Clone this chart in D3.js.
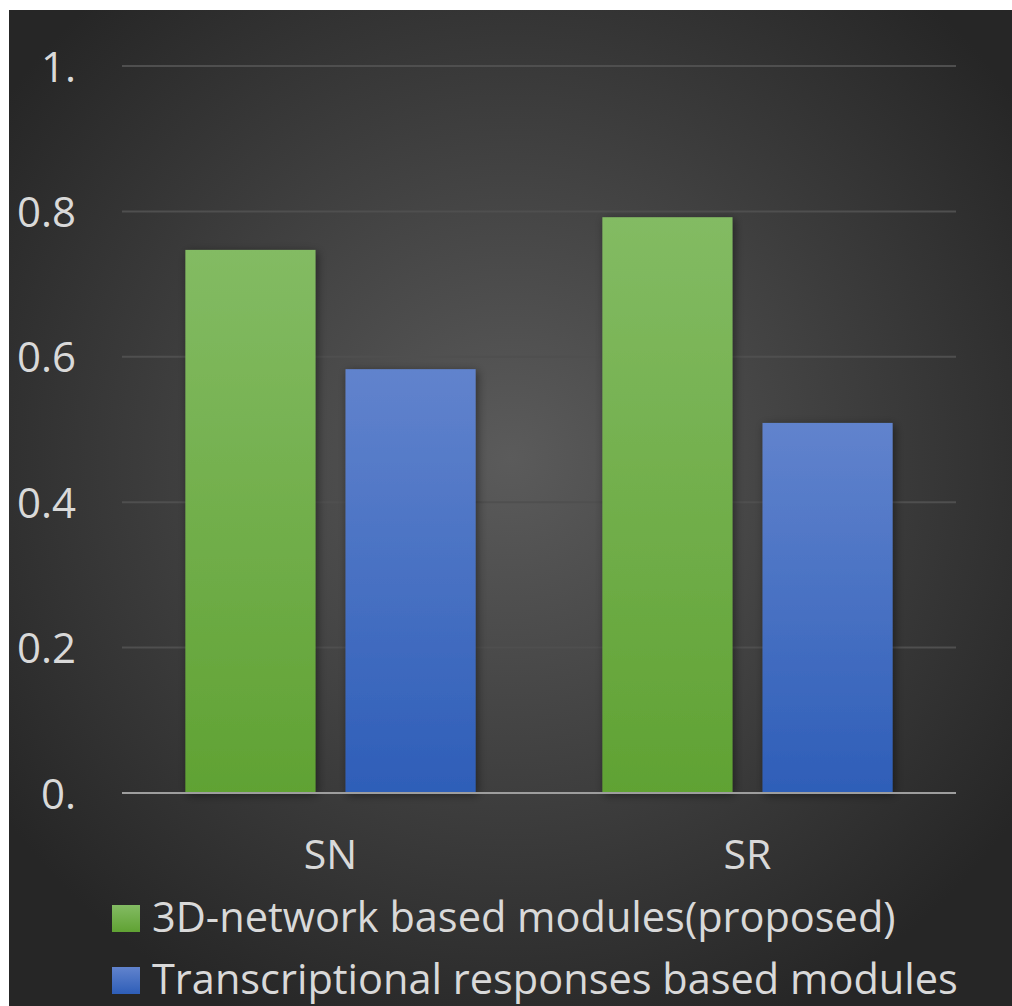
<!DOCTYPE html>
<html>
<head>
<meta charset="utf-8">
<script src="https://cdn.jsdelivr.net/npm/d3@7"></script>
<style>
  html, body { margin: 0; padding: 0; background: #fff; }
  svg { display: block; }
  text { font-family: "Open Sans", sans-serif; fill: #d9d9d9; }
</style>
</head>
<body>
<script>
// data
var categories = ["SN", "SR"]
var seriesNames = ["3D-network based modules(proposed)", "Transcriptional responses based modules"]
var proposed = [0.747, 0.792]
var transcriptional = [0.583, 0.509]
var tickValues = [0, 0.2, 0.4, 0.6, 0.8, 1]
var tickLabels = ["0.", "0.2", "0.4", "0.6", "0.8", "1."]

var w = 1012, h = 1006

var svg = d3.select("body").append("svg")
    .attr("width", w).attr("height", h)

var defs = svg.append("defs")

// dark radial background like the office theme
var bg = defs.append("radialGradient").attr("id", "bg")
    .attr("cx", "50%").attr("cy", "45%").attr("r", "62%")
bg.append("stop").attr("offset", "0%").attr("stop-color", "#5b5b5b")
bg.append("stop").attr("offset", "100%").attr("stop-color", "#262626")

var colors = [["#83bb63", "#60a233"], ["#6183cd", "#2e5eb8"]]
colors.forEach(function(c, i) {
  var g = defs.append("linearGradient").attr("id", "fill" + i)
      .attr("x1", 0).attr("y1", 0).attr("x2", 0).attr("y2", 1)
  g.append("stop").attr("offset", "0%").attr("stop-color", c[0])
  g.append("stop").attr("offset", "100%").attr("stop-color", c[1])
})

var shadow = defs.append("filter").attr("id", "shadow")
    .attr("x", "-20%").attr("y", "-20%").attr("width", "140%").attr("height", "140%")
shadow.append("feDropShadow").attr("dx", 2).attr("dy", 2)
    .attr("stdDeviation", 5).attr("flood-color", "#000").attr("flood-opacity", 0.45)

svg.append("rect").attr("x", 9).attr("y", 10)
    .attr("width", w - 9).attr("height", h - 10)
    .attr("fill", "url(#bg)")

var y = d3.scaleLinear().domain([0, 1]).range([793, 66])

var x0 = d3.scaleBand().domain(categories).range([122, 956])
    .paddingInner(0.304).paddingOuter(0.152)

var x1 = d3.scaleBand().domain([0, 1]).range([0, x0.bandwidth()])
    .paddingInner(0.1875)

// grid lines
svg.append("g").selectAll("line")
    .data(tickValues.slice(1))
  .enter().append("line")
    .attr("x1", 122).attr("x2", 956)
    .attr("y1", function(d) { return y(d) }).attr("y2", function(d) { return y(d) })
    .attr("stroke", "#4f4f4f").attr("stroke-width", 2)

// y axis labels
var yAxis = d3.axisLeft(y).tickValues(tickValues)
    .tickFormat(function(d, i) { return tickLabels[i] })
    .tickSize(0).tickPadding(0)
var ya = svg.append("g").attr("transform", "translate(76,0)").call(yAxis)
ya.select(".domain").remove()
ya.selectAll("text").style("font-size", "42px").attr("fill", "#dcdcdc")
    .attr("dy", "0.36em")

// bars
var rows = categories.map(function(c, i) { return [proposed[i], transcriptional[i]] })

var groups = svg.append("g").selectAll("g")
    .data(rows)
  .enter().append("g")
    .attr("transform", function(d, i) { return "translate(" + x0(categories[i]) + ",0)" })

groups.selectAll("rect")
    .data(function(d) { return d })
  .enter().append("rect")
    .attr("x", function(d, j) { return x1(j) })
    .attr("width", x1.bandwidth())
    .attr("y", function(d) { return y(d) })
    .attr("height", function(d) { return y(0) - y(d) })
    .attr("fill", function(d, j) { return "url(#fill" + j + ")" })
    .attr("filter", "url(#shadow)")

// x axis
var xAxis = d3.axisBottom(x0).tickSize(0).tickPadding(0)
var xa = svg.append("g").attr("transform", "translate(0," + y(0) + ")").call(xAxis)
xa.select(".domain").attr("stroke", "#9e9e9e").attr("stroke-width", 2)
    .attr("d", "M122,0H956")
xa.selectAll("text").style("font-size", "41px").attr("fill", "#dcdcdc")
    .attr("y", 76).attr("dy", 0)

// legend
var legend = svg.append("g").selectAll("g")
    .data(seriesNames)
  .enter().append("g")
    .attr("transform", function(d, i) { return "translate(112," + (905 + i * 62) + ")" })

legend.append("rect").attr("width", 28).attr("height", 27)
    .attr("fill", function(d, i) { return "url(#fill" + i + ")" })

legend.append("text").attr("x", 40).attr("y", 27)
    .style("font-size", "41.5px").attr("fill", "#dcdcdc")
    .text(function(d) { return d })
</script>
</body>
</html>
